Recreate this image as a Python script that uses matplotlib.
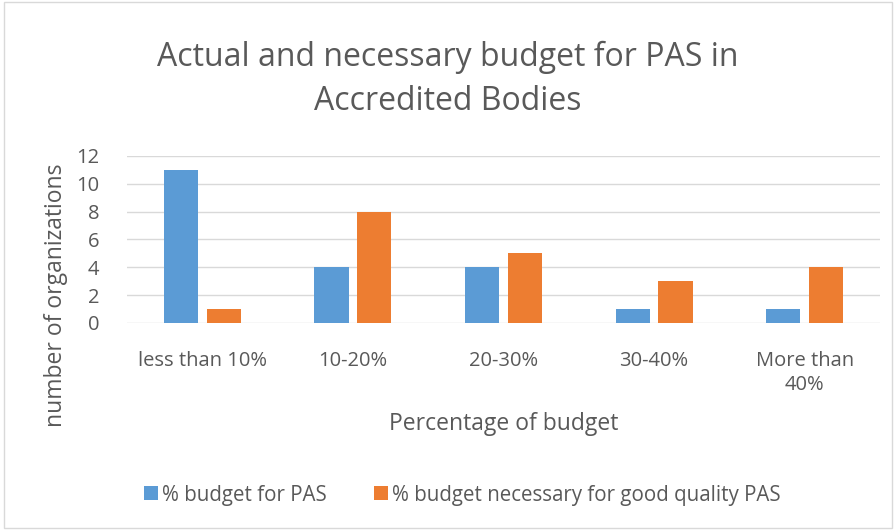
import numpy as np
import matplotlib.pyplot as plt
from matplotlib.patches import Rectangle

categories = ['less than 10%', '10-20%', '20-30%', '30-40%', 'More than\n40%']
actual_budget = [11, 4, 4, 1, 1]
necessary_budget = [1, 8, 5, 3, 4]
series_names = ['% budget for PAS', '% budget necessary for good quality PAS']

BLUE = '#5B9BD5'
ORANGE = '#ED7D31'
TEXT = '#595959'

plt.rcParams['font.family'] = ['Open Sans', 'DejaVu Sans']

fig = plt.figure(figsize=(8.96, 5.3), dpi=100)
ax = fig.add_axes([127 / 896, 1 - 323 / 530, (880 - 127) / 896, (323 - 156) / 530])

# chart border
fig.patches.append(Rectangle((0.004, 0.003), 0.992, 0.994, transform=fig.transFigure,
                             fill=False, edgecolor='#D9D9D9', linewidth=1))

x = np.arange(len(categories))
width = 0.226
offset = 0.142
ax.bar(x - offset, actual_budget, width, color=BLUE, label=series_names[0], zorder=3)
ax.bar(x + offset, necessary_budget, width, color=ORANGE, label=series_names[1], zorder=3)

ax.set_xlim(-0.5, len(categories) - 0.5)
ax.set_ylim(0, 12)
ax.set_yticks(range(0, 13, 2))
ax.yaxis.grid(True, color='#D9D9D9', linewidth=1, zorder=0)
for s in ax.spines.values():
    s.set_visible(False)
ax.tick_params(axis='both', length=0, labelsize=14.5, labelcolor=TEXT)
ax.tick_params(axis='x', pad=20)
ax.tick_params(axis='y', pad=20)
ax.set_xticks(x)
ax.set_xticklabels(categories, va='top', linespacing=1.3)

ax.set_xlabel('Percentage of budget', fontsize=16.5, color=TEXT)
ax.set_ylabel('number of organizations', fontsize=16.5, color=TEXT)
ax.xaxis.set_label_coords(0.5, (323 - 424) / 167)
ax.yaxis.set_label_coords((56 - 127) / 753, (323 - 295) / 167)
ax.xaxis.label.set_va('center')
ax.yaxis.label.set_va('center')

fig.text(0.5, 1 - 57 / 530, 'Actual and necessary budget for PAS in', ha='center', va='center',
         fontsize=23, color=TEXT)
fig.text(0.5, 1 - 101 / 530, 'Accredited Bodies', ha='center', va='center',
         fontsize=23, color=TEXT)

fig.legend(loc='center', bbox_to_anchor=(462 / 896, 1 - 495 / 530), ncol=2, frameon=False,
           fontsize=14.8, labelcolor=TEXT, handlelength=0.68, handleheight=0.68,
           handletextpad=0.2, columnspacing=2.3)

fig.savefig('out.png', dpi=100)
